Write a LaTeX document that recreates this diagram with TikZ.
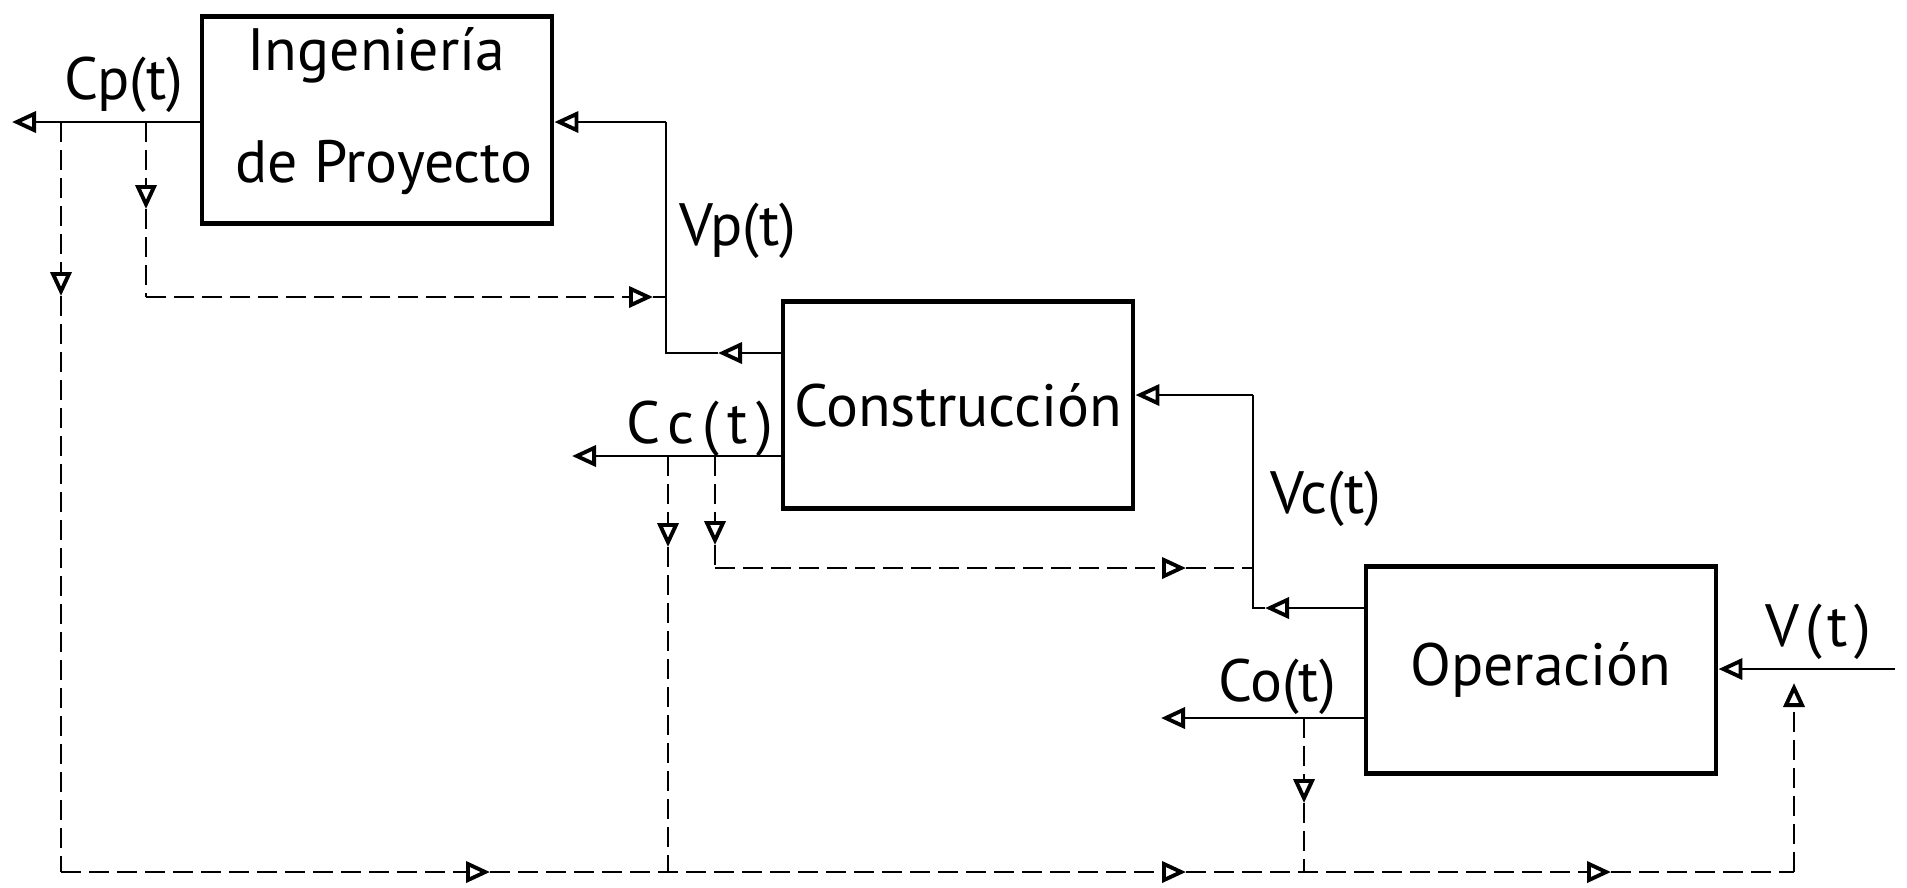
\documentclass[tikz,border=0pt]{standalone}
\usepackage{fontspec}
\setmainfont{PT Sans}
\usetikzlibrary{positioning,arrows.meta}
\tikzset{
  blockbox/.style={draw, line width=1.4pt, minimum width=3.5cm, minimum height=2.07cm, inner sep=0pt, align=center},
  flowline/.style={line width=0.8pt},
  flowarrow/.style={-{Triangle[open, length=2.4mm, width=2.1mm, line width=1.1pt]}, line width=0.8pt},
  costline/.style={dash pattern=on 2mm off 0.8mm, line width=0.7pt},
  costarrow/.style={-{Triangle[open, length=2.4mm, width=2.1mm, line width=1.1pt]}, dash pattern=on 2mm off 0.8mm, line width=0.7pt},
  siglabel/.style={inner sep=1pt}
}

\begin{document}
\begin{tikzpicture}[x=0.1mm, y=-0.1mm, every node/.style={font=\fontsize{17}{20}\selectfont}]
  \useasboundingbox (0,0) rectangle (1907,887);

  % blocks
  \node[blockbox] (ing) at (377,120) {};
  \node[align=left] (ingtext) at (384,111) {\hspace*{1.2mm}Ingeniería\\[12pt]de Proyecto};
  \node[blockbox] (con) at (958,405) {Construcción};
  \node[blockbox] (ope) at (1541,670) {Operación};

  % labels
  \node[siglabel] (cplabel) at (124,85) {Cp(t)};
  \node[siglabel] (vplabel) at (738,231) {Vp(t)};
  \node[siglabel] (cclabel) at (700,429) {\addfontfeature{LetterSpace=14}Cc(t)};
  \node[siglabel] (vclabel) at (1326,499) {Vc(t)};
  \node[siglabel] (colabel) at (1277,687) {Co(t)};
  \node[siglabel] (vlabel) at (1818,632) {\addfontfeature{LetterSpace=10}V(t)};

  % junction points
  \coordinate (cpend) at (12,122);
  \coordinate (cpa) at (61,122);
  \coordinate (cpatip) at (61,296);
  \coordinate (cpb) at (146,122);
  \coordinate (cpbtip) at (146,209);
  \coordinate (cpbcorner) at (146,297);
  \coordinate (vpfeed) at (653,297);
  \coordinate (vpjoin) at (666,297);
  \coordinate (vpbot) at (666,353);
  \coordinate (vptip) at (718,353);
  \coordinate (vptop) at (666,122);

  \coordinate (ccend) at (572,456);
  \coordinate (cca) at (668,456);
  \coordinate (ccatip) at (668,547);
  \coordinate (ccabot) at (668,872);
  \coordinate (ccb) at (715,456);
  \coordinate (ccbtip) at (715,545);
  \coordinate (ccbcorner) at (715,568);
  \coordinate (vcfeed) at (1186,568);
  \coordinate (vcjoin) at (1253,568);
  \coordinate (vcbot) at (1253,608);
  \coordinate (vctip) at (1265,608);
  \coordinate (vctop) at (1253,395);

  \coordinate (coend) at (1161,718);
  \coordinate (coa) at (1304,718);
  \coordinate (coatip) at (1304,803);
  \coordinate (coabot) at (1304,872);

  \coordinate (botleft) at (61,872);
  \coordinate (bottip1) at (490,872);
  \coordinate (bottip2) at (1186,872);
  \coordinate (bottip3) at (1611,872);
  \coordinate (botright) at (1794,872);
  \coordinate (vfeed) at (1794,683);
  \coordinate (vin) at (1895,669);

  % solid flows
  \draw[flowarrow] (cpend -| ing.west) -- (cpend);
  \draw[flowarrow] (vpbot -| con.west) -- (vptip);
  \draw[flowline] (vptip) -- (vpbot) -- (vptop);
  \draw[flowarrow] (vptop) -- (vptop -| ing.east);
  \draw[flowarrow] (ccend -| con.west) -- (ccend);
  \draw[flowarrow] (vcbot -| ope.west) -- (vctip);
  \draw[flowline] (vctip) -- (vcbot) -- (vctop);
  \draw[flowarrow] (vctop) -- (vctop -| con.east);
  \draw[flowarrow] (coend -| ope.west) -- (coend);
  \draw[flowarrow] (vin) -- (vin -| ope.east);

  % dashed cost flows
  \draw[costarrow] (cpb) -- (cpbtip);
  \draw[costline] (cpbtip) -- (cpbcorner);
  \draw[costarrow] (cpbcorner) -- (vpfeed);
  \draw[costline] (vpfeed) -- (vpjoin);
  \draw[costarrow] (cpa) -- (cpatip);
  \draw[costline] (cpatip) -- (botleft);
  \draw[costarrow] (cca) -- (ccatip);
  \draw[costline] (ccatip) -- (ccabot);
  \draw[costarrow] (ccb) -- (ccbtip);
  \draw[costline] (ccbtip) -- (ccbcorner);
  \draw[costarrow] (ccbcorner) -- (vcfeed);
  \draw[costline] (vcfeed) -- (vcjoin);
  \draw[costarrow] (coa) -- (coatip);
  \draw[costline] (coatip) -- (coabot);
  \draw[costarrow] (botleft) -- (bottip1);
  \draw[costarrow] (bottip1) -- (bottip2);
  \draw[costarrow] (bottip2) -- (bottip3);
  \draw[costline] (bottip3) -- (botright);
  \draw[costarrow] (botright) -- (vfeed);
\end{tikzpicture}
\end{document}
